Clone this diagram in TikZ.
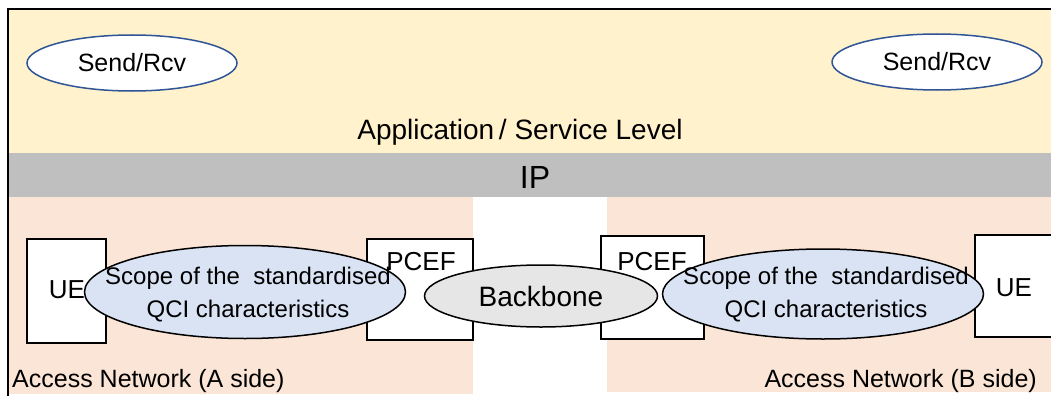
\documentclass[tikz,border=0pt]{standalone}
\usepackage{fontspec}
\setmainfont{Liberation Sans}
\usetikzlibrary{shapes.geometric}
\definecolor{appyellow}{HTML}{FFF2CC}
\definecolor{ipgray}{HTML}{BFBFBF}
\definecolor{accpink}{HTML}{FBE5D6}
\definecolor{scopeblue}{HTML}{DAE3F3}
\definecolor{bbgray}{HTML}{E6E6E6}
\definecolor{sendblue}{HTML}{2F5597}
\tikzset{
  txt/.style={font=\fontsize{24}{33}\selectfont, inner sep=0pt, align=center},
  boxlbl/.style={font=\fontsize{26}{30}\selectfont, inner sep=0pt},
  sendell/.style={ellipse, draw=sendblue, line width=1.5pt, fill=white, minimum width=210pt, minimum height=56pt, inner sep=0pt, font=\fontsize{25}{28}\selectfont},
  netbox/.style={rectangle, draw=black, line width=1.5pt, fill=white, inner sep=0pt},
  scopeell/.style={ellipse, draw=black, line width=1.5pt, fill=scopeblue, inner sep=0pt},
  bbell/.style={ellipse, draw=black, line width=1.5pt, fill=bbgray, inner sep=0pt, minimum width=233pt, minimum height=62pt, font=\fontsize{28}{32}\selectfont},
}
\begin{document}
\begin{tikzpicture}[x=1pt,y=-1pt]
\useasboundingbox (0,0) rectangle (1051,396);
% background bands
\fill[appyellow] (8,9) rectangle (1051,153);
\fill[ipgray] (8,153) rectangle (1051,197);
\fill[accpink] (8,197) rectangle (473,394);
\fill[accpink] (607,197) rectangle (1051,392);
% frame
\draw[line width=2.5pt] (8,396) -- (8,9) -- (1051,9);
% top level
\node[sendell] (sendA) at (132,63) {Send/Rcv};
\node[sendell] (sendB) at (937,62) {Send/Rcv};
\node[txt, font=\fontsize{28}{32}\selectfont] (app) at (520,132) {Application\,/ Service Level};
\node[txt, font=\fontsize{32}{36}\selectfont] (ip) at (535,177) {IP};
% boxes
\node[netbox, minimum width=79pt, minimum height=104pt] (ueA) at (66.5,291) {};
\node[netbox, minimum width=106pt, minimum height=101pt] (pcefA) at (420,289.5) {};
\node[netbox, minimum width=103pt, minimum height=103pt] (pcefB) at (652.5,287.5) {};
\node[netbox, minimum width=80pt, minimum height=102pt] (ueB) at (1015,286) {};
% ellipses
\node[scopeell, minimum width=321pt, minimum height=93pt] (scopeA) at (245,292) {};
\node[bbell] (bb) at (541,296) {Backbone};
\node[scopeell, minimum width=321pt, minimum height=90pt] (scopeB) at (823,294) {};
% labels
\node[boxlbl] (ueAt) at (67,290) {UE};
\node[boxlbl] (pcefAt) at (421,262) {PCEF};
\node[boxlbl] (pcefBt) at (652,262) {PCEF};
\node[boxlbl] (ueBt) at (1014,288) {UE};
\node[txt] (scopeAt) at (248,295) {Scope of the\ \ standardised\\QCI characteristics};
\node[txt] (scopeBt) at (826,295) {Scope of the\ \ standardised\\QCI characteristics};
\node[txt, font=\fontsize{25}{30}\selectfont, anchor=west] (accA) at (12,381) {Access Network (A side)};
\node[txt, font=\fontsize{25}{30}\selectfont, anchor=east] (accB) at (1037,381) {Access Network (B side)};
\end{tikzpicture}
\end{document}
